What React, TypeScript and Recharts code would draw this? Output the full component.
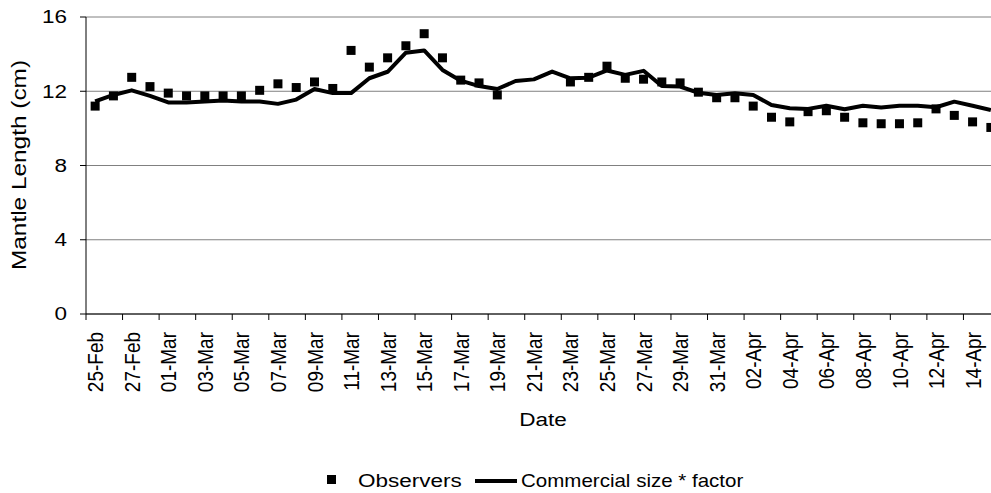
import React from 'react';
import { LineChart, Line, XAxis, YAxis, CartesianGrid, Legend } from 'recharts';

const dates = [
  '25-Feb', '26-Feb', '27-Feb', '28-Feb',
  '01-Mar', '02-Mar', '03-Mar', '04-Mar', '05-Mar', '06-Mar', '07-Mar', '08-Mar', '09-Mar', '10-Mar',
  '11-Mar', '12-Mar', '13-Mar', '14-Mar', '15-Mar', '16-Mar', '17-Mar', '18-Mar', '19-Mar', '20-Mar',
  '21-Mar', '22-Mar', '23-Mar', '24-Mar', '25-Mar', '26-Mar', '27-Mar', '28-Mar', '29-Mar', '30-Mar',
  '31-Mar', '01-Apr', '02-Apr', '03-Apr', '04-Apr', '05-Apr', '06-Apr', '07-Apr', '08-Apr', '09-Apr',
  '10-Apr', '11-Apr', '12-Apr', '13-Apr', '14-Apr', '15-Apr',
];

// no observer samples on 20-22 Mar
const observers = [
  11.2, 11.75, 12.75, 12.25,
  11.9, 11.75, 11.75, 11.75, 11.75, 12.05, 12.4, 12.2, 12.5, 12.15,
  14.2, 13.3, 13.8, 14.45, 15.1, 13.8, 12.6, 12.45, 11.8, null,
  null, null, 12.5, 12.75, 13.35, 12.7, 12.65, 12.5, 12.45, 11.95,
  11.65, 11.65, 11.2, 10.6, 10.35, 10.9, 10.95, 10.6, 10.3, 10.25,
  10.25, 10.3, 11.05, 10.7, 10.35, 10.05,
];

const commercial = [
  11.45, 11.8, 12.05, 11.75,
  11.4, 11.4, 11.45, 11.5, 11.45, 11.45, 11.32, 11.55, 12.12, 11.9,
  11.9, 12.7, 13.05, 14.08, 14.2, 13.15, 12.57, 12.28, 12.12, 12.55,
  12.64, 13.06, 12.7, 12.73, 13.12, 12.88, 13.1, 12.28, 12.25, 11.92,
  11.8, 11.89, 11.8, 11.26, 11.08, 11.05, 11.22, 11.03, 11.22, 11.12,
  11.22, 11.22, 11.14, 11.44, 11.22, 10.99,
];

const yTicks = [0, 4, 8, 12, 16];

const data = dates.map((date, i) => ({
  date,
  observers: observers[i],
  commercial: commercial[i],
}));

const FONT = '"Liberation Sans", Arial, sans-serif';
const HALF_STEP = 9.14;

const XTick = (props: any) => {
  const { x, y, payload } = props;
  return (
    <g>
      <line x1={x - HALF_STEP} y1={y} x2={x - HALF_STEP} y2={y + 6} stroke="#000" />
      <text
        transform={`translate(${x},${y + 18}) scale(1.18,1) rotate(-90)`}
        textAnchor="end"
        dy="0.36em"
        fontSize={19}
        fontFamily={FONT}
        fill="#000"
      >
        {payload.value}
      </text>
    </g>
  );
};

const YTick = (props: any) => {
  const { x, y, payload } = props;
  return (
    <text
      transform={`translate(${x},${y}) scale(1.25,1)`}
      textAnchor="end"
      dy="0.36em"
      fontSize={18}
      fontFamily={FONT}
      fill="#000"
    >
      {payload.value}
    </text>
  );
};

const Square = (props: any) => {
  const { cx, cy, index } = props;
  if (cx == null || cy == null || props.value == null) return <g key={`sq-${index}`} />;
  return <rect key={`sq-${index}`} x={cx - 4.5} y={cy - 4.5} width={9} height={9} fill="#000" />;
};

const renderLegend = () => (
  <svg width={1010} height={30} style={{ display: 'block' }}>
    <rect x={327} y={11} width={9} height={9} fill="#000" />
    <text transform="translate(358,23) scale(1.25,1)" fontSize={18} fontFamily={FONT} fill="#000">
      Observers
    </text>
    <line x1={475} y1={17} x2={517} y2={17} stroke="#000" strokeWidth={4} />
    <text transform="translate(521,23) scale(1.14,1)" fontSize={18} fontFamily={FONT} fill="#000">
      Commercial size * factor
    </text>
  </svg>
);

export default function App() {
  return (
    <div style={{ position: 'fixed', left: 0, top: 0, width: 991, height: 493, overflow: 'hidden', background: '#fff' }}>
      <LineChart width={1010} height={493} data={data} margin={{ top: 17, right: 10, bottom: 59, left: 0 }}>
        <CartesianGrid horizontal vertical={false} stroke="#808080" />
        <XAxis
          dataKey="date"
          height={120}
          interval={1}
          padding={{ left: HALF_STEP, right: HALF_STEP }}
          tickLine={false}
          tickSize={0}
          tickMargin={0}
          tick={<XTick />}
          axisLine={{ stroke: '#000' }}
          label={{
            content: () => (
              <text transform="translate(543,426) scale(1.25,1)" textAnchor="middle" fontSize={18} fontFamily={FONT} fill="#000">
                Date
              </text>
            ),
          }}
        />
        <YAxis
          width={86}
          domain={[0, 16]}
          ticks={yTicks}
          interval={0}
          tickSize={6}
          tickMargin={13}
          tick={<YTick />}
          stroke="#000"
          label={{
            content: () => (
              <text transform="translate(19,165) rotate(-90) scale(1.22,1)" textAnchor="middle" dy="0.36em" fontSize={20} fontFamily={FONT} fill="#000">
                Mantle Length (cm)
              </text>
            ),
          }}
        />
        <Legend
          verticalAlign="middle"
          layout="horizontal"
          align="center"
          content={renderLegend}
          wrapperStyle={{ left: 0, top: 464, width: 1010, height: 30 }}
        />
        <Line
          dataKey="observers"
          name="Observers"
          stroke="none"
          dot={<Square />}
          activeDot={false}
          isAnimationActive={false}
        />
        <Line
          dataKey="commercial"
          name="Commercial size * factor"
          type="linear"
          stroke="#000"
          strokeWidth={4}
          strokeLinejoin="round"
          dot={false}
          activeDot={false}
          isAnimationActive={false}
        />
      </LineChart>
    </div>
  );
}
